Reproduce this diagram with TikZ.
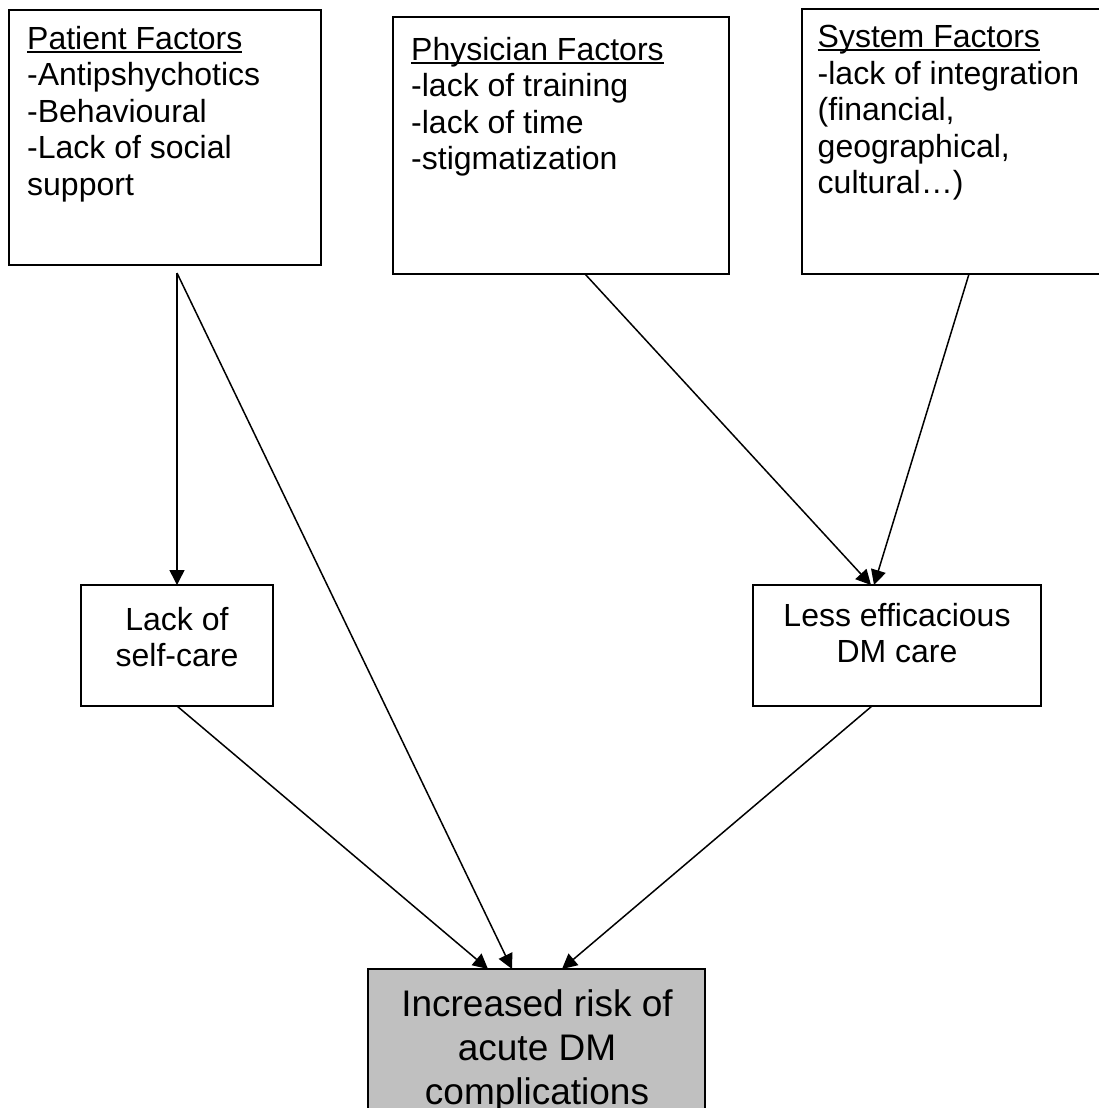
\documentclass[tikz,border=0pt]{standalone}
\usepackage{fontspec}
\setmainfont{Liberation Sans}
\usetikzlibrary{arrows.meta}
\definecolor{boxgray}{HTML}{C0C0C0}
\newcommand\myul[1]{\setbox0\hbox{#1}\rlap{\rule[-3.5pt]{\wd0}{1.8pt}}\box0}
\begin{document}
\begin{tikzpicture}[x=1pt,y=-1pt,
  box/.style={draw, line width=1.9pt, inner sep=0pt, outer sep=0pt, anchor=north west},
  topfont/.style={font=\fontsize{32}{36.5}\selectfont, align=left, inner sep=0pt, anchor=north west},
  midfont/.style={font=\fontsize{32}{36}\selectfont, align=center, inner sep=0pt, anchor=north},
  botfont/.style={font=\fontsize{37}{44}\selectfont, align=center, inner sep=0pt, anchor=north},
  conn/.style={line width=1.5pt, -{Triangle[length=15pt,width=15pt]}}]
\useasboundingbox (0,0) rectangle (1099,1108);
% boxes
\node[box, minimum width=312pt, minimum height=255pt] (pat) at (9,10) {};
\node[box, minimum width=336pt, minimum height=257pt] (phy) at (393,17) {};
\node[box, minimum width=313pt, minimum height=265pt] (sys) at (802,9) {};
\node[box, minimum width=192pt, minimum height=121pt] (self) at (81,585) {};
\node[box, minimum width=288pt, minimum height=121pt] (less) at (753,585) {};
\node[box, fill=boxgray, minimum width=337pt, minimum height=161pt] (bot) at (368,969) {};
% texts
\node[topfont] (patT) at (27,26) {\myul{Patient Factors}\\-Antipshychotics\\-Behavioural\\-Lack of social\\support};
\node[topfont] (phyT) at (411,37) {\myul{Physician Factors}\\-lack of training\\-lack of time\\-stigmatization};
\node[topfont] (sysT) at (817.5,25) {\myul{System Factors}\\-lack of integration\\(financial,\\geographical,\\cultural…)};
\node[midfont] (selfT) at (177,607) {Lack of\\self-care};
\node[midfont] (lessT) at (897,603) {Less efficacious\\DM care};
\node[botfont] (botT) at (537,989) {Increased risk of\\acute DM\\complications};
% connectors
\coordinate (pa) at ([xshift=12pt,yshift=-8pt]pat.south);
\draw[conn] (pa) -- (self.north);
\draw[conn] (pa) -- ([xshift=-24.5pt]bot.north);
\draw[conn] ([xshift=24pt]phy.south) -- ([xshift=-26pt]less.north);
\draw[conn] ([xshift=10.5pt]sys.south) -- ([xshift=-23pt]less.north);
\draw[conn] (self.south) -- ([xshift=-48.5pt]bot.north);
\draw[conn] ([xshift=-25pt]less.south) -- ([xshift=25.5pt]bot.north);
\end{tikzpicture}
\end{document}
